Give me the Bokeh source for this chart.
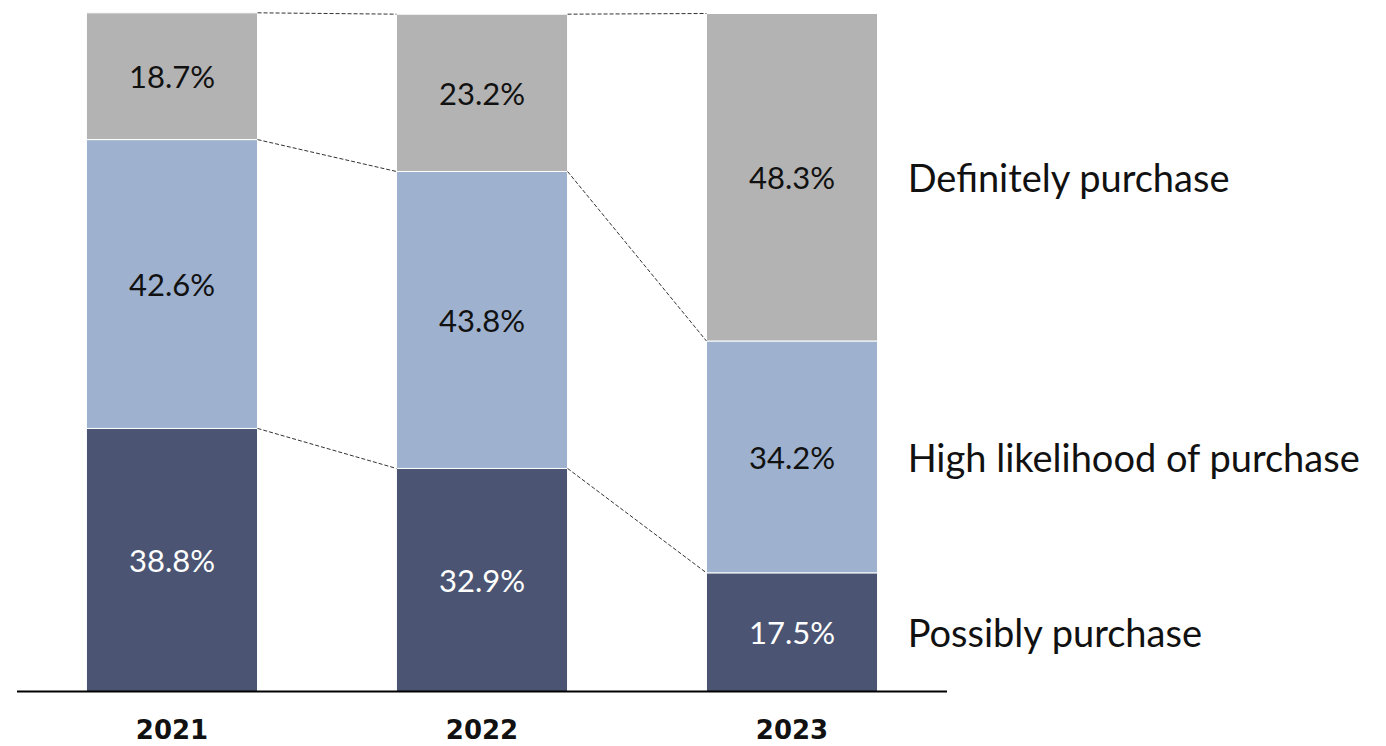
from bokeh.plotting import figure
from bokeh.models import Range1d, ColumnDataSource
from bokeh.core.properties import value
from bokeh.embed import file_html
from bokeh.resources import INLINE

years = ["2021", "2022", "2023"]
series = ["Possibly purchase", "High likelihood of purchase", "Definitely purchase"]
possibly = [38.8, 32.9, 17.5]
high = [42.6, 43.8, 34.2]
definitely = [18.7, 23.2, 48.3]
colors = ["#4B5573", "#9EB1CF", "#B3B3B3"]
label_colors = ["white", "#111111", "#111111"]

FONT = "Lato"
W, H = 1386, 746
bar_w = 0.552

p = figure(width=W, height=H, output_backend="svg", toolbar_location=None,
           x_range=Range1d(-0.5532, 3.9177), y_range=Range1d(-8.112, 101.917),
           min_border_left=0, min_border_right=0, min_border_top=0, min_border_bottom=0)
p.axis.visible = False
p.grid.visible = False
p.outline_line_color = None
p.background_fill_color = "white"

xs = list(range(len(years)))
vals = [possibly, high, definitely]
bottoms = [0.0] * len(years)
bounds = []
for si, v in enumerate(vals):
    tops = [b + x for b, x in zip(bottoms, v)]
    src = ColumnDataSource(dict(x=xs, bottom=bottoms, top=tops,
                                mid=[(b + t) / 2 for b, t in zip(bottoms, tops)],
                                lab=[f"{x:.1f}%" for x in v]))
    p.vbar(x="x", width=bar_w, bottom="bottom", top="top", source=src,
           fill_color=colors[si], line_color="white", line_width=1)
    p.text(x="x", y="mid", text="lab", source=src, text_align="center",
           text_baseline="middle", text_font=value(FONT), text_font_size="31px",
           text_color=label_colors[si])
    bounds.append(tops)
    bottoms = tops

# dashed connectors between bars at each boundary
x0s, y0s, x1s, y1s = [], [], [], []
for tops in bounds:
    for i in range(len(years) - 1):
        x0s.append(xs[i] + bar_w / 2)
        x1s.append(xs[i + 1] - bar_w / 2)
        y0s.append(tops[i])
        y1s.append(tops[i + 1])
p.segment(x0=x0s, y0=y0s, x1=x1s, y1=y1s, line_color="#333333",
          line_width=1, line_dash="4 2")

# baseline
p.segment(x0=[-0.5], y0=[0], x1=[2.5], y1=[0], line_color="black", line_width=2)

# year labels
p.text(x=xs, y=[-5.5] * 3, text=years, text_align="center", text_baseline="middle",
       text_font=value("DejaVu Sans"), text_font_style="bold", text_font_size="26px",
       text_color="#111111")

# series labels at right of last bar
last = len(years) - 1
mids = []
b = 0.0
for v in vals:
    mids.append(b + v[last] / 2)
    b += v[last]
p.text(x=[last + bar_w / 2 + 0.097] * 3, y=mids, text=series, text_align="left",
       text_baseline="middle", text_font=value(FONT), text_font_size="38px",
       text_color="#111111")

open("out.html", "w").write(file_html(p, INLINE))
